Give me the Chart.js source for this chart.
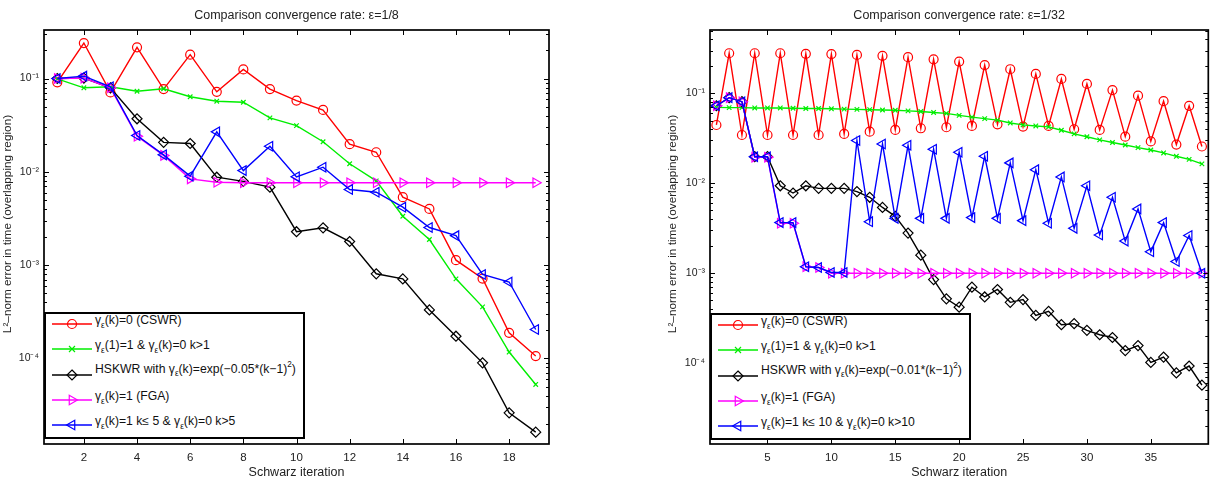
<!DOCTYPE html>
<html><head><meta charset="utf-8">
<script src="https://cdn.jsdelivr.net/npm/chart.js@4.4.1/dist/chart.umd.min.js"></script>
<style>
body{margin:0;background:#fff;width:1215px;height:497px;position:relative;overflow:hidden;font-family:"Liberation Sans",Arial,Helvetica,sans-serif}
.cv{position:absolute;top:0}
.leg{position:absolute;box-sizing:border-box;border:2px solid #000;background:#fff;width:261px;height:127px}
.row{position:absolute;left:0;height:0;width:100%}
.row svg{position:absolute;left:6px;top:-6px}
.row .t{position:absolute;left:49px;white-space:nowrap;font-size:12.2px;line-height:12px;color:#111}
.s{font-size:8.2px;position:relative;top:3.5px}
.p{font-size:8.2px;position:relative;top:-5.5px}
</style></head>
<body>
<canvas id="cL" class="cv" width="600" height="497" style="left:0"></canvas>
<canvas id="cR" class="cv" width="600" height="497" style="left:615px"></canvas>
<div id="legL" class="leg" style="left:44px;top:312px"></div>
<div id="legR" class="leg" style="left:710px;top:313px"></div>
<script>
// ---------- data ----------
const iterL = [1,2,3,4,5,6,7,8,9,10,11,12,13,14,15,16,17,18,19];
const iterR = [1,2,3,4,5,6,7,8,9,10,11,12,13,14,15,16,17,18,19,20,21,22,23,24,25,26,27,28,29,30,31,32,33,34,35,36,37,38,39];

const cswrL = [0.091,0.24,0.071,0.216,0.077,0.18,0.072,0.125,0.077,0.058,0.046,0.0198,0.0162,0.00535,0.0040,0.00113,0.000718,0.000188,0.000106];
const oneStepL = [0.099,0.0795,0.0815,0.073,0.0776,0.0637,0.0571,0.0557,0.0379,0.0313,0.021,0.0122,0.0080,0.00334,0.00188,0.000713,0.000357,0.000117,0.0000526];
const hskwrL = [0.1,0.101,0.0795,0.037,0.0207,0.0201,0.00875,0.0079,0.00685,0.00228,0.00251,0.00179,0.000807,0.000712,0.000331,0.000173,0.0000897,0.0000261,0.0000162];
const fgaL = [0.1,0.101,0.0795,0.0241,0.0150,0.0084,0.00774,0.00762,0.00762,0.00762,0.00762,0.00762,0.00762,0.00762,0.00762,0.00762,0.00762,0.00762,0.00762];
const switchL = [0.1,0.106,0.0815,0.0245,0.0152,0.00898,0.0268,0.0103,0.0188,0.00883,0.0112,0.00646,0.00604,0.00418,0.00253,0.00207,0.000794,0.000659,0.000204];

const cswrR = [0.0446,0.28,0.0345,0.28,0.0345,0.28,0.0345,0.276,0.0345,0.274,0.0355,0.268,0.0376,0.262,0.0393,0.253,0.041,0.24,0.0421,0.226,0.0435,0.207,0.0454,0.186,0.0428,0.165,0.0435,0.145,0.040,0.1276,0.0393,0.109,0.0331,0.0946,0.0293,0.082,0.027,0.0728,0.0257];
const oneStepR = [0.070,0.0695,0.0695,0.069,0.069,0.069,0.0685,0.068,0.068,0.0675,0.067,0.0665,0.066,0.0655,0.065,0.064,0.063,0.0615,0.060,0.057,0.0545,0.0525,0.0505,0.047,0.0447,0.0435,0.0425,0.039,0.0355,0.033,0.0305,0.0285,0.0267,0.025,0.0235,0.0218,0.020,0.0185,0.0165];
const hskwrR = [0.073,0.0898,0.081,0.0198,0.0198,0.0094,0.0078,0.0094,0.0088,0.0088,0.0088,0.0081,0.0070,0.0054,0.0043,0.0028,0.00159,0.00085,0.00052,0.00042,0.0007,0.000545,0.00066,0.000475,0.00051,0.00034,0.000377,0.000268,0.000275,0.000232,0.000207,0.000193,0.000138,0.000157,0.000102,0.000117,0.000078,0.000093,0.000057];
const fgaR = [0.073,0.0898,0.081,0.0195,0.0195,0.0036,0.0036,0.00118,0.00116,0.001,0.001,0.001,0.001,0.001,0.001,0.001,0.001,0.001,0.001,0.001,0.001,0.001,0.001,0.001,0.001,0.001,0.001,0.001,0.001,0.001,0.001,0.001,0.001,0.001,0.001,0.001,0.001,0.001,0.001];
const switchR = [0.073,0.0898,0.081,0.0198,0.0198,0.00366,0.00366,0.00118,0.00116,0.00102,0.00102,0.030,0.00375,0.0274,0.00408,0.0265,0.00408,0.024,0.00408,0.0222,0.00416,0.020,0.00408,0.0169,0.00385,0.0142,0.0036,0.0118,0.00316,0.0094,0.00267,0.0070,0.00228,0.0052,0.00174,0.00366,0.00135,0.00263,0.001];

const xTicksL = [2,4,6,8,10,12,14,16,18];
const xTicksR = [5,10,15,20,25,30,35];
const yDecades = [0.1,0.01,0.001,0.0001];
const yDecadeLabels = ['10\u207B\u00B9','10\u207B\u00B2','10\u207B\u00B3','10\u207B\u2074'];

const titleL = 'Comparison convergence rate: \u03B5=1/8';
const titleR = 'Comparison convergence rate: \u03B5=1/32';
const xTitle = 'Schwarz iteration';
const yTitle = 'L\u00B2\u2013norm error in time (overlapping region)';

const legendL = [
  '\u03B3<span class="s">\u03B5</span>(k)=0 (CSWR)',
  '\u03B3<span class="s">\u03B5</span>(1)=1 &amp; \u03B3<span class="s">\u03B5</span>(k)=0 k&gt;1',
  'HSKWR with \u03B3<span class="s">\u03B5</span>(k)=exp(\u22120.05*(k\u22121)<span class="p">2</span>)',
  '\u03B3<span class="s">\u03B5</span>(k)=1 (FGA)',
  '\u03B3<span class="s">\u03B5</span>(k)=1 k\u2264 5 &amp; \u03B3<span class="s">\u03B5</span>(k)=0 k&gt;5'
];
const legendR = [
  '\u03B3<span class="s">\u03B5</span>(k)=0 (CSWR)',
  '\u03B3<span class="s">\u03B5</span>(1)=1 &amp; \u03B3<span class="s">\u03B5</span>(k)=0 k&gt;1',
  'HSKWR with \u03B3<span class="s">\u03B5</span>(k)=exp(\u22120.01*(k\u22121)<span class="p">2</span>)',
  '\u03B3<span class="s">\u03B5</span>(k)=1 (FGA)',
  '\u03B3<span class="s">\u03B5</span>(k)=1 k\u2264 10 &amp; \u03B3<span class="s">\u03B5</span>(k)=0 k&gt;10'
];

// ---------- styles ----------
const styles = [
  {color:'#ff0000', pointStyle:'circle', radius:4.5, rotation:0, order:5},
  {color:'#00ee00', pointStyle:'crossRot', radius:3.2, rotation:0, order:4},
  {color:'#000000', pointStyle:'rectRot', radius:5, rotation:0, order:3},
  {color:'#ff00ff', pointStyle:'triangle', radius:5.5, rotation:90, order:2},
  {color:'#0000ff', pointStyle:'triangle', radius:5.5, rotation:-90, order:1}
];
const FONT = '"Liberation Sans", Arial, Helvetica, sans-serif';
Chart.defaults.font.family = FONT;
Chart.defaults.color = '#222';

function isDecade(v){ const l = Math.log10(v); return Math.abs(l - Math.round(l)) < 1e-9; }
function logTicks(min, max){
  const out = [];
  for (let e = Math.floor(Math.log10(min)); e <= Math.ceil(Math.log10(max)); e++){
    for (let m = 1; m <= 9; m++){
      const v = m * Math.pow(10, e);
      if (v >= min && v <= max) out.push(v);
    }
  }
  return out;
}
function yLabel(v){
  if (!isDecade(v)) return '';
  for (let i = 0; i < yDecades.length; i++) if (Math.abs(Math.log10(v) - Math.log10(yDecades[i])) < 1e-9) return yDecadeLabels[i];
  return '';
}

const framePlugin = {
  id:'frame',
  afterDatasetsDraw(chart, args, opts){
    const {ctx, chartArea:a, scales:{x, y}} = chart;
    ctx.save();
    ctx.strokeStyle = '#000';
    ctx.lineWidth = 1;
    ctx.beginPath();
    x.ticks.forEach(t => {
      const px = Math.round(x.getPixelForValue(t.value)) + 0.5;
      ctx.moveTo(px, a.bottom); ctx.lineTo(px, a.bottom - 5);
      ctx.moveTo(px, a.top); ctx.lineTo(px, a.top + 5);
    });
    y.ticks.forEach(t => {
      const py = Math.round(y.getPixelForValue(t.value)) + 0.5;
      const len = isDecade(t.value) ? 5 : 3;
      ctx.moveTo(a.left, py); ctx.lineTo(a.left + len, py);
      ctx.moveTo(a.right, py); ctx.lineTo(a.right - len, py);
    });
    ctx.stroke();
    ctx.lineWidth = 1.7;
    ctx.strokeRect(a.left, a.top, a.right - a.left, a.bottom - a.top);
    // y-axis title (rotated)
    ctx.fillStyle = '#222';
    ctx.font = '11.8px ' + FONT;
    ctx.translate(opts.yTitleX, 224);
    ctx.rotate(-Math.PI / 2);
    ctx.textAlign = 'center';
    ctx.textBaseline = 'middle';
    ctx.fillText(yTitle, 0, 0);
    ctx.restore();
  }
};

function makeChart(id, iters, series, xmax, xTicks, ymin, ymax, title, padLeft, padRight, yTitleX){
  const datasets = series.map((vals, i) => ({
    data: iters.map((k, j) => ({x:k, y:vals[j]})),
    borderColor: styles[i].color,
    backgroundColor: 'rgba(0,0,0,0)',
    borderWidth: 1.4,
    pointStyle: styles[i].pointStyle,
    pointRadius: styles[i].radius,
    pointRotation: styles[i].rotation,
    pointBorderColor: styles[i].color,
    pointBackgroundColor: 'rgba(0,0,0,0)',
    pointBorderWidth: 1.2,
    tension: 0,
    fill: false,
    order: styles[i].order
  }));
  return new Chart(document.getElementById(id), {
    type:'line',
    data:{datasets},
    plugins:[framePlugin],
    options:{
      responsive:false,
      animation:false,
      devicePixelRatio:1,
      layout:{padding:{left:padLeft, right:padRight, top:0, bottom:0}},
      plugins:{
        legend:{display:false},
        tooltip:{enabled:false},
        frame:{yTitleX},
        title:{display:true, text:title, fullSize:false, color:'#222',
               font:{size:12.5, weight:'normal'}, padding:{top:8, bottom:7}}
      },
      scales:{
        x:{type:'linear', min:0.5, max:xmax,
           afterBuildTicks:s => { s.ticks = xTicks.map(v => ({value:v})); },
           afterFit:s => { s.height = 53; },
           ticks:{padding:7, font:{size:11.5}, autoSkip:false, maxRotation:0, color:'#222'},
           grid:{display:false, drawTicks:false}, border:{display:false},
           title:{display:true, text:xTitle, color:'#222', font:{size:12.5}, padding:{top:0, bottom:16.5}}},
        y:{type:'logarithmic', min:ymin, max:ymax, position:'left',
           afterBuildTicks:s => { s.ticks = logTicks(ymin, ymax).map(v => ({value:v})); },
           afterFit:s => { s.width = 44; },
           ticks:{padding:5, font:{size:10.5}, autoSkip:false, color:'#222', callback:v => yLabel(v)},
           grid:{display:false, drawTicks:false}, border:{display:false},
           title:{display:false}}
      }
    }
  });
}

makeChart('cL', iterL, [cswrL, oneStepL, hskwrL, fgaL, switchL], 19.5, xTicksL, 1.21e-5, 0.331, titleL, 0, 51, 7.5);
makeChart('cR', iterR, [cswrR, oneStepR, hskwrR, fgaR, switchR], 39.5, xTicksR, 1.262e-5, 0.508, titleR, 51, 6, 57.5);

// ---------- legends (HTML) ----------
function markerSvg(i){
  const c = styles[i].color;
  let m = '';
  if (i === 0) m = `<circle cx="20" cy="6" r="4.5" fill="none" stroke="${c}" stroke-width="1.2"/>`;
  if (i === 1) m = `<path d="M17,3L23,9M23,3L17,9" stroke="${c}" stroke-width="1.2"/>`;
  if (i === 2) m = `<polygon points="20,1 25,6 20,11 15,6" fill="none" stroke="#000" stroke-width="1.2"/>`;
  if (i === 3) m = `<polygon points="25.5,6 17.25,1.24 17.25,10.76" fill="none" stroke="${c}" stroke-width="1.2"/>`;
  if (i === 4) m = `<polygon points="14.5,6 22.75,1.24 22.75,10.76" fill="none" stroke="${c}" stroke-width="1.2"/>`;
  return `<svg width="40" height="12" viewBox="0 0 40 12"><line x1="0" y1="6" x2="40" y2="6" stroke="${c}" stroke-width="1.4"/>${m}</svg>`;
}
const rowCenters = [10, 35, 60.5, 86, 111];
function buildLegend(id, texts){
  const el = document.getElementById(id);
  el.innerHTML = texts.map((t, i) => {
    const off = i === 2 ? -12 : -10;
    return `<div class="row" style="top:${rowCenters[i]}px">${markerSvg(i)}<span class="t" style="top:${off}px">${t}</span></div>`;
  }).join('');
}
buildLegend('legL', legendL);
buildLegend('legR', legendR);
</script>
</body></html>
